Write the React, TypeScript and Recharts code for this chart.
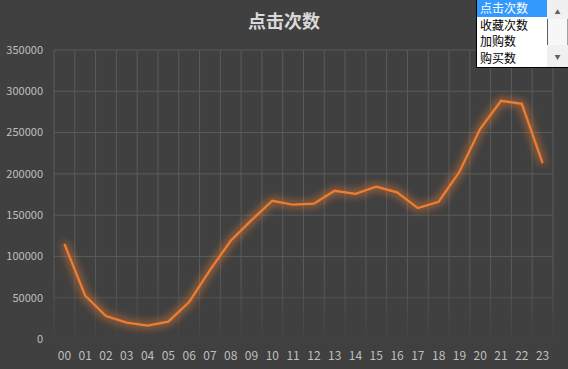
import React from "react";
import { LineChart, Line, XAxis, YAxis, CartesianGrid } from "recharts";

const hours = ["00", "01", "02", "03", "04", "05", "06", "07", "08", "09", "10", "11", "12", "13", "14", "15", "16", "17", "18", "19", "20", "21", "22", "23"];
const clicks = [115000, 52400, 27800, 19800, 16100, 21000, 44800, 83500, 119000, 144000, 167400, 162600, 163800, 179500, 175900, 184400, 177600, 158600, 166200, 202500, 254500, 288500, 284800, 213000];
const yTicks = [0, 50000, 100000, 150000, 200000, 250000, 300000, 350000];
const options = ["点击次数", "收藏次数", "加购数", "购买数"];

const data = hours.map((h, i) => ({ hour: h, clicks: clicks[i] }));

const FONT = '"Noto Sans CJK SC", "Microsoft YaHei", sans-serif';

function ListBox() {
  return (
    <div
      style={{
        position: "absolute",
        left: 476,
        top: 0,
        width: 91,
        height: 67,
        background: "#fff",
        border: "1px solid #000",
        borderTop: "none",
        fontFamily: FONT,
        fontSize: 12,
        lineHeight: "16.5px",
      }}
    >
      <div style={{ position: "absolute", left: 0, top: 0, width: 70 }}>
        {options.map((o, i) => (
          <div
            key={o}
            style={{
              height: 16.5,
              paddingLeft: 3,
              background: i === 0 ? "#3399ff" : "transparent",
              color: i === 0 ? "#fff" : "#000",
            }}
          >
            {o}
          </div>
        ))}
      </div>
      <div
        style={{
          position: "absolute",
          left: 70,
          top: 0,
          width: 21,
          height: 67,
          background: "#f0f0f0",
        }}
      >
        <div style={{ position: "absolute", top: 8, width: 21, textAlign: "center", fontSize: 6, lineHeight: "8px", color: "#606060" }}>▲</div>
        <div
          style={{
            position: "absolute",
            top: 19,
            left: 0,
            width: 19,
            height: 26,
            borderLeft: "1px solid #606060",
            borderRight: "1px solid #a0a0a0",
            background: "#f7f7f7",
          }}
        />
        <div style={{ position: "absolute", top: 53, width: 21, textAlign: "center", fontSize: 6, lineHeight: "8px", color: "#606060" }}>▼</div>
      </div>
    </div>
  );
}

export default function App() {
  return (
    <div style={{ position: "fixed", left: 0, top: 0, width: 568, height: 369, background: "#404040", overflow: "hidden" }}>
      <div
        style={{
          position: "absolute",
          left: 0,
          top: 7,
          width: 568,
          textAlign: "center",
          fontFamily: FONT,
          fontSize: 18,
          fontWeight: "bold",
          color: "#d9d9d9",
        }}
      >
        点击次数
      </div>
      <LineChart width={568} height={369} data={data} margin={{ top: 50, right: 15, bottom: 0, left: 0 }} style={{ position: "absolute", left: 0, top: 0 }}>
        <defs>
          <linearGradient id="gridFade" gradientUnits="userSpaceOnUse" x1="0" y1="50" x2="0" y2="339">
            <stop offset="0.78" stopColor="#5a5a5a" stopOpacity={1} />
            <stop offset="1" stopColor="#5a5a5a" stopOpacity={0.1} />
          </linearGradient>
          <filter id="glow" x="-20%" y="-20%" width="140%" height="140%">
            <feMorphology in="SourceGraphic" operator="dilate" radius="1" result="fat" />
            <feGaussianBlur in="fat" stdDeviation="4" result="blur" />
            <feComponentTransfer in="blur" result="soft">
              <feFuncA type="linear" slope="0.8" />
            </feComponentTransfer>
            <feMerge>
              <feMergeNode in="soft" />
              <feMergeNode in="SourceGraphic" />
            </feMerge>
          </filter>
        </defs>
        <CartesianGrid
          stroke="url(#gridFade)"
          strokeWidth={1}
          verticalCoordinatesGenerator={({ offset }: any) =>
            hours.concat([""]).map((_, k) => offset.left + (k * offset.width) / hours.length)
          }
        />
        <XAxis
          dataKey="hour"
          scale="band"
          axisLine={false}
          tickLine={false}
          tickSize={0}
          tickMargin={12}
          height={30}
          interval={0}
          tick={{ fill: "#bfbfbf", fontSize: 12, fontFamily: FONT }}
        />
        <YAxis
          domain={[0, 350000]}
          ticks={yTicks}
          axisLine={false}
          tickLine={false}
          tickSize={0}
          tickMargin={11}
          width={54}
          interval={0}
          tick={{ fill: "#bfbfbf", fontSize: 11, fontFamily: FONT }}
        />
        <Line
          type="linear"
          dataKey="clicks"
          stroke="#ed7d31"
          strokeWidth={2.25}
          dot={false}
          activeDot={false}
          filter="url(#glow)"
          isAnimationActive={false}
        />
      </LineChart>
      <ListBox />
    </div>
  );
}
